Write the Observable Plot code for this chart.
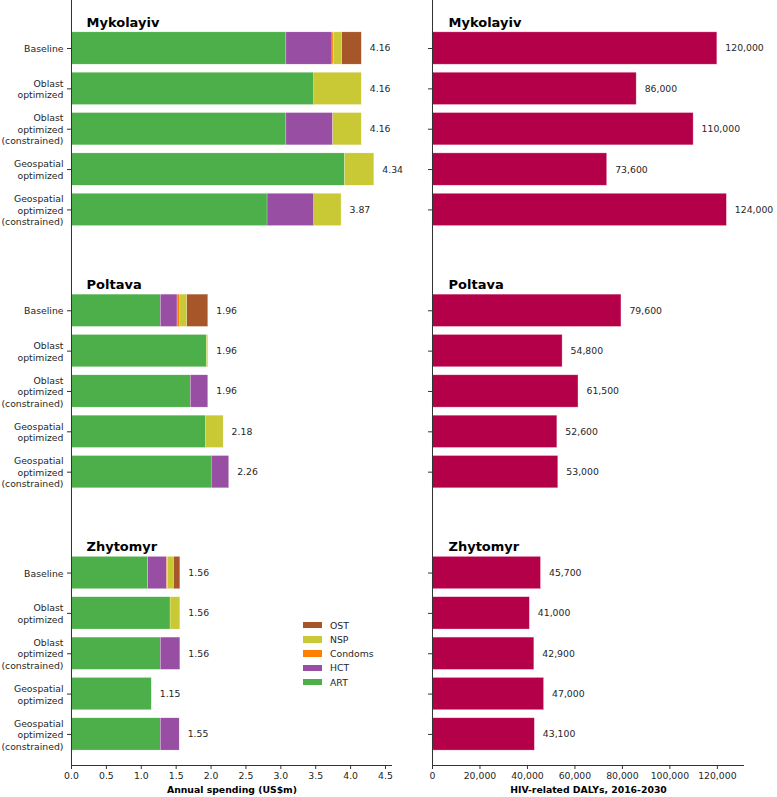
<!DOCTYPE html>
<html>
<head>
<meta charset="utf-8">
<script src="https://cdn.jsdelivr.net/npm/d3@7"></script>
<script src="https://cdn.jsdelivr.net/npm/@observablehq/plot@0.6"></script>
<style>
  html, body { margin: 0; padding: 0; background: #fff; }
  #wrap { position: relative; width: 777px; height: 797px; display: flex; font-family: "DejaVu Sans", sans-serif; }
  #wrap svg { display: block; }
  #legend { position: absolute; left: 303px; top: 618px; font-size: 9.3px; color: #262626; }
  #legend .row { display: flex; align-items: center; height: 14.25px; }
  #legend .sw { width: 19px; height: 6.5px; margin-right: 8px; }
</style>
</head>
<body>
<div id="wrap"><div id="left"></div><div id="right"></div><div id="legend"></div></div>
<script>
// ---- data ----
const regions = ["Mykolayiv", "Poltava", "Zhytomyr"];
const scenarios = ["Baseline", "Oblast\noptimized", "Oblast\noptimized\n(constrained)", "Geospatial\noptimized", "Geospatial\noptimized\n(constrained)"];
const programs = ["ART", "HCT", "Condoms", "NSP", "OST"];
const programColors = ["#4daf4a", "#984ea3", "#ff7f00", "#c9c935", "#a65628"];
// annual spending (US$m) by scenario, columns = programs [ART, HCT, Condoms, NSP, OST]
const mykolayivSpend = [[3.08,0.66,0.02,0.12,0.28],[3.48,0,0,0.68,0],[3.08,0.67,0,0.41,0],[3.92,0,0,0.42,0],[2.81,0.67,0,0.39,0]];
const poltavaSpend   = [[1.28,0.24,0.04,0.10,0.30],[1.94,0,0,0.02,0],[1.71,0.25,0,0,0],[1.93,0,0,0.25,0],[2.01,0.25,0,0,0]];
const zhytomyrSpend  = [[1.10,0.27,0.01,0.09,0.09],[1.42,0,0,0.14,0],[1.28,0.28,0,0,0],[1.15,0,0,0,0],[1.28,0.27,0,0,0]];
const spendTotals = [[4.16,4.16,4.16,4.34,3.87],[1.96,1.96,1.96,2.18,2.26],[1.56,1.56,1.56,1.15,1.55]];
const dalys = [[120000,86000,110000,73600,124000],[79600,54800,61500,52600,53000],[45700,41000,42900,47000,43100]];
const spendTicks = [0,0.5,1,1.5,2,2.5,3,3.5,4,4.5];
const dalyTicks = [0,20000,40000,60000,80000,100000,120000];
const spendLabel = "Annual spending (US$m)";
const dalyLabel = "HIV-related DALYs, 2016-2030";

// ---- layout helpers ----
const groupStep = 6.5;
const half = 0.4;
const yDomain = [-1.19, 2 * groupStep + 4 + 0.77];
const pos = (g, i) => g * groupStep + i;
const spendByRegion = [mykolayivSpend, poltavaSpend, zhytomyrSpend];

const segs = [];
const spendTotalRows = [];
const dalyRows = [];
const tickPos = [];
const tickLabel = new Map();
regions.forEach((r, g) => {
  scenarios.forEach((s, i) => {
    const p = pos(g, i);
    tickPos.push(p); tickLabel.set(p, s);
    let acc = 0;
    spendByRegion[g][i].forEach((v, k) => {
      if (v > 0) segs.push({p, x1: acc, x2: acc + v, program: programs[k]});
      acc += v;
    });
    spendTotalRows.push({p, total: spendTotals[g][i]});
    dalyRows.push({p, value: dalys[g][i]});
  });
});
const titles = regions.map((r, g) => ({p: pos(g, 0), name: r}));

const H = 797, mB = 32;
const common = {
  height: H, marginTop: 0, marginBottom: mB,
  style: {fontFamily: "DejaVu Sans, sans-serif", fontSize: "9.3px", color: "#262626", overflow: "visible", background: "white"},
};
const yScale = {type: "linear", domain: yDomain, reverse: true, label: null};
const spineColor = "#333";

const left = Plot.plot({
  ...common, width: 410, marginLeft: 71, marginRight: 18,
  x: {domain: [0, d3.max(spendTotals.flat()) * 1.06], label: null},
  y: yScale,
  color: {domain: programs, range: programColors},
  marks: [
    Plot.rectX(segs, {x1: "x1", x2: "x2", y1: d => d.p - half, y2: d => d.p + half, fill: "program", stroke: "white", strokeWidth: 0.4, strokeOpacity: 0.6}),
    Plot.text(spendTotalRows, {x: "total", y: "p", text: d => d3.format(".2f")(d.total), dx: 8, textAnchor: "start", fill: "#262626", fontSize: 9.3}),
    Plot.text(titles, {x: 0, y: d => d.p - half, text: "name", dx: 15, dy: -10, textAnchor: "start", fontWeight: "bold", fontSize: 13, fill: "black"}),
    Plot.axisY(tickPos, {tickFormat: p => tickLabel.get(p), tickSize: 4, tickPadding: 4, fontSize: 9.3, lineHeight: 1.24, label: null, stroke: spineColor}),
    Plot.axisX(spendTicks, {tickFormat: d3.format(".1f"), tickSize: 4, tickPadding: 3, fontSize: 9.3, label: null, stroke: spineColor}),
    Plot.ruleX([0], {stroke: spineColor, strokeWidth: 1}),
    Plot.ruleY([yDomain[1]], {stroke: spineColor, strokeWidth: 1}),
    Plot.text([spendLabel], {frameAnchor: "bottom", text: d => d, dy: 27, fontWeight: "bold", fontSize: 9.3, fill: "black"})
  ]
});

const right = Plot.plot({
  ...common, width: 367, marginLeft: 22, marginRight: 33,
  x: {domain: [0, d3.max(dalys.flat()) * 1.06], label: null},
  y: yScale,
  marks: [
    Plot.rectX(dalyRows, {x1: 0, x2: "value", y1: d => d.p - half, y2: d => d.p + half, fill: "#b30049", stroke: "#ffd6e6", strokeWidth: 0.5, strokeOpacity: 0.7}),
    Plot.text(dalyRows, {x: "value", y: "p", text: d => d3.format(",")(d.value), dx: 8, textAnchor: "start", fill: "#262626", fontSize: 9.3}),
    Plot.text(titles, {x: 0, y: d => d.p - half, text: "name", dx: 16, dy: -10, textAnchor: "start", fontWeight: "bold", fontSize: 13, fill: "black"}),
    Plot.axisY(tickPos, {tickFormat: () => "", tickSize: 4, label: null, stroke: spineColor}),
    Plot.axisX(dalyTicks, {tickFormat: d3.format(","), tickSize: 4, tickPadding: 3, fontSize: 9.3, label: null, stroke: spineColor}),
    Plot.ruleX([0], {stroke: spineColor, strokeWidth: 1}),
    Plot.ruleY([yDomain[1]], {stroke: spineColor, strokeWidth: 1}),
    Plot.text([dalyLabel], {frameAnchor: "bottom", text: d => d, dy: 27, fontWeight: "bold", fontSize: 9.3, fill: "black"})
  ]
});

document.getElementById("left").appendChild(left);
document.getElementById("right").appendChild(right);

// legend (top-to-bottom order is the reverse of the stacking order)
const legend = document.getElementById("legend");
programs.slice().reverse().forEach(p => {
  const row = document.createElement("div"); row.className = "row";
  const sw = document.createElement("div"); sw.className = "sw";
  sw.style.background = programColors[programs.indexOf(p)];
  const t = document.createElement("span"); t.textContent = p;
  row.appendChild(sw); row.appendChild(t); legend.appendChild(row);
});
</script>
</body>
</html>
